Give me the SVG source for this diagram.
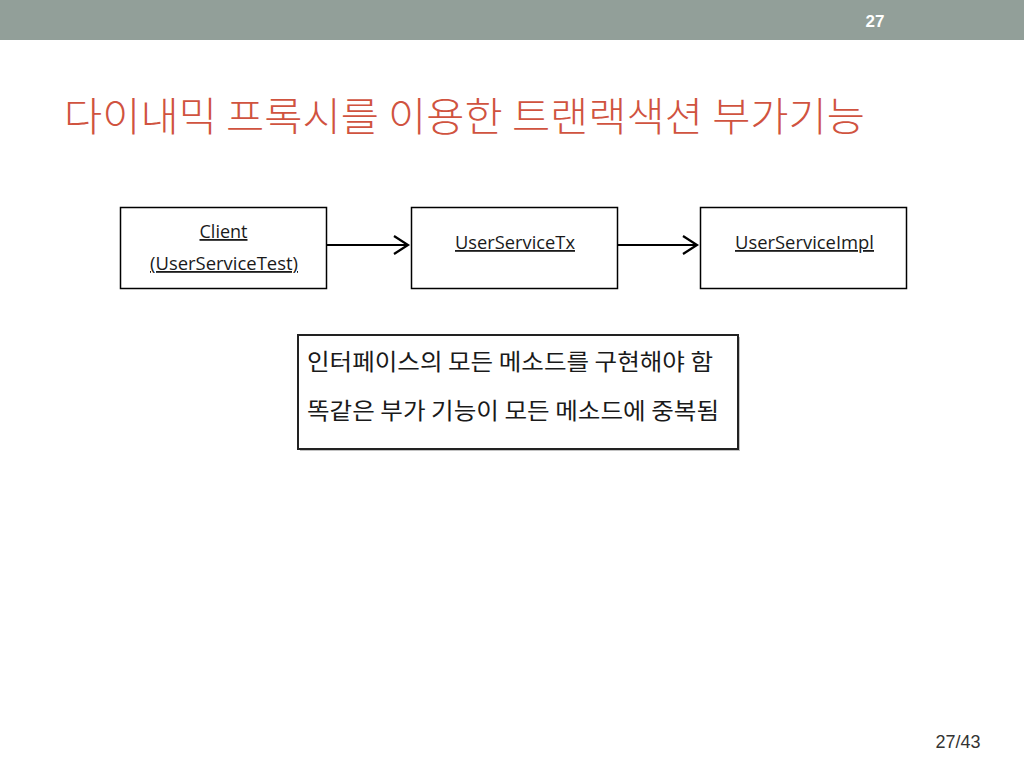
<svg xmlns="http://www.w3.org/2000/svg" width="1024" height="768" viewBox="0 0 1024 768">
<style>
.box{fill:#fff;stroke:#000;stroke-width:1.5}
.lbl{font-family:"Open Sans","Noto Sans",sans-serif;font-size:18px;fill:#1a1a1a;text-anchor:middle;text-decoration:underline}
.note{font-family:"Noto Sans CJK KR",sans-serif;font-size:23px;fill:#1a1a1a}
.conn{stroke:#000;stroke-width:2;fill:none}
</style>
<defs>
<marker id="open" markerWidth="20" markerHeight="22" refX="16" refY="10" orient="auto" markerUnits="userSpaceOnUse">
<path d="M2,1 L16,10 L2,19" fill="none" stroke="#000" stroke-width="2.2"/>
</marker>
</defs>
<rect x="0" y="0" width="1024" height="768" fill="#fff"/>
<rect x="0" y="0" width="1024" height="40" fill="#929f99"/>
<text x="875" y="27" font-family="Liberation Sans,sans-serif" font-weight="bold" font-size="17" fill="#fff" text-anchor="middle">27</text>
<text x="64" y="131" font-family="Noto Sans CJK KR,sans-serif" font-weight="300" font-size="40" fill="#d0533f" textLength="801" lengthAdjust="spacingAndGlyphs">다이내믹 프록시를 이용한 트랜랙색션 부가기능</text>
<g id="client">
<rect class="box" x="120.5" y="207.5" width="206" height="81"/>
<text class="lbl" x="223.5" y="238">Client</text>
<text class="lbl" x="224" y="270" textLength="148" lengthAdjust="spacingAndGlyphs">(UserServiceTest)</text>
</g>
<g id="tx">
<rect class="box" x="411.5" y="207.5" width="206" height="81"/>
<text class="lbl" x="515" y="249" textLength="120" lengthAdjust="spacingAndGlyphs">UserServiceTx</text>
</g>
<g id="impl">
<rect class="box" x="700.5" y="207.5" width="206" height="81"/>
<text class="lbl" x="804.5" y="249" textLength="139" lengthAdjust="spacingAndGlyphs">UserServiceImpl</text>
</g>
<g id="connectors">
<line class="conn" x1="327" y1="245" x2="408" y2="245" marker-end="url(#open)"/>
<line class="conn" x1="618" y1="245" x2="697" y2="245" marker-end="url(#open)"/>
</g>
<g id="note">
<rect x="300" y="337" width="440" height="114" fill="#999" opacity="0.6"/>
<rect x="298" y="335" width="440" height="114" fill="#fff" stroke="#222" stroke-width="2"/>
<text class="note" x="307" y="370" textLength="406" lengthAdjust="spacingAndGlyphs">인터페이스의 모든 메소드를 구현해야 함</text>
<text class="note" x="307" y="419" textLength="412" lengthAdjust="spacingAndGlyphs">똑같은 부가 기능이 모든 메소드에 중복됨</text>
</g>
<text x="958" y="748" font-family="Liberation Sans,sans-serif" font-size="18" fill="#333" text-anchor="middle">27/43</text>
</svg>
